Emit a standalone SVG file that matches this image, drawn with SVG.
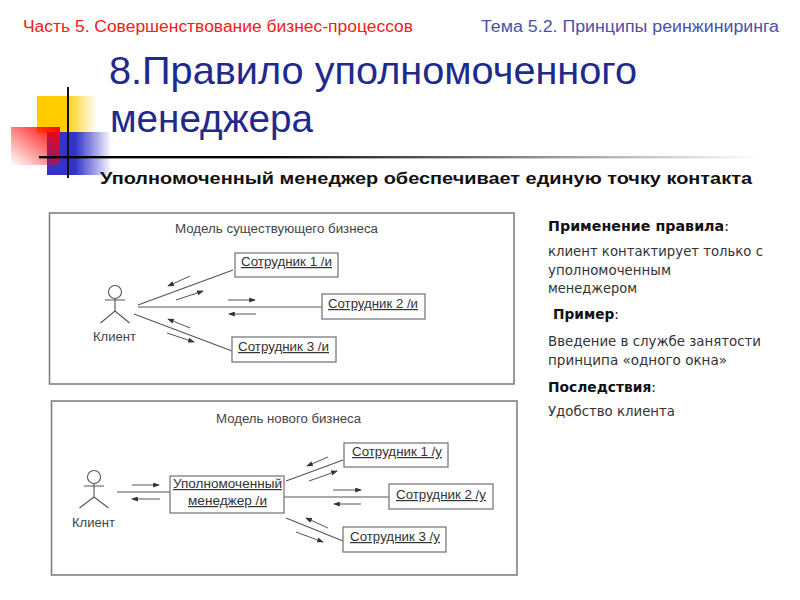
<svg xmlns="http://www.w3.org/2000/svg" width="800" height="600" viewBox="0 0 800 600">
<style>
text{font-family:"Liberation Sans",Arial,sans-serif}
.hd{font-size:16px}
.ti{font-size:39px;fill:#1f2a8c}
.sub{font-size:17px;font-weight:bold;fill:#111}
.rb,.rt{font-family:"DejaVu Sans","Liberation Sans",sans-serif}
.rb{font-size:14px;font-weight:bold;fill:#111}
.rb tspan{font-weight:normal}
.rt{font-size:14px;fill:#333}
.pt{font-size:12px;fill:#444}
.nl{font-size:12px;fill:#333;text-decoration:underline}
.panel{fill:#fff;stroke:#808080;stroke-width:1.6}
.box{fill:#fff;stroke:#7a7a7a;stroke-width:1.3}
.conn{stroke:#555;stroke-width:1.2;fill:none}
.msg{stroke:#555;stroke-width:1;fill:none;marker-end:url(#ah)}
.act{stroke:#555;stroke-width:1.1;fill:#fff}
</style>
<defs>
<marker id="ah" viewBox="0 0 8 6" refX="7" refY="3" markerWidth="7" markerHeight="5" markerUnits="userSpaceOnUse" orient="auto"><path d="M0 0L8 3L0 6Z" fill="#333"/></marker>
<linearGradient id="gy" x1="0" x2="1" y1="0" y2="0"><stop offset="0.47" stop-color="#ffcc00"/><stop offset="1" stop-color="#ffcc00" stop-opacity="0"/></linearGradient>
<linearGradient id="gb" x1="0" x2="1" y1="0" y2="0"><stop offset="0.45" stop-color="#3333cc"/><stop offset="1" stop-color="#3333cc" stop-opacity="0.05"/></linearGradient>
<linearGradient id="gr" x1="1" x2="0" y1="0" y2="1"><stop offset="0" stop-color="#ff0000"/><stop offset="1" stop-color="#ff0000" stop-opacity="0"/></linearGradient>
<linearGradient id="gl" x1="0" x2="1" y1="0" y2="0"><stop offset="0.3" stop-color="#000"/><stop offset="1" stop-color="#000" stop-opacity="0"/></linearGradient>
</defs>
<rect width="800" height="600" fill="#fff"/>
<g id="decor">
<rect x="37" y="96" width="60" height="37" fill="url(#gy)"/>
<rect x="47" y="132" width="63" height="43" fill="url(#gb)"/>
<rect x="11" y="127" width="49" height="38" fill="url(#gr)"/>
<rect x="67" y="87" width="2" height="91" fill="#111"/>
<rect x="39" y="156" width="721" height="2.400" fill="url(#gl)"/>
</g>
<g id="header">
<text class="hd" x="23" y="32" fill="#f02020" textLength="390" lengthAdjust="spacingAndGlyphs">Часть 5. Совершенствование бизнес-процессов</text>
<text class="hd" x="481" y="32" fill="#4a50a8" textLength="298" lengthAdjust="spacingAndGlyphs">Тема 5.2. Принципы реинжиниринга</text>
<text class="ti" x="109" y="84" textLength="528" lengthAdjust="spacingAndGlyphs">8.Правило уполномоченного</text>
<text class="ti" x="110" y="132" textLength="203" lengthAdjust="spacingAndGlyphs">менеджера</text>
<text class="sub" x="100" y="184" textLength="652" lengthAdjust="spacingAndGlyphs">Уполномоченный менеджер обеспечивает единую точку контакта</text>
</g>
<g id="notes">
<text class="rb" x="548" y="231" textLength="181" lengthAdjust="spacingAndGlyphs">Применение правила<tspan>:</tspan></text>
<text class="rt" x="548" y="256" textLength="215" lengthAdjust="spacingAndGlyphs">клиент контактирует только с</text>
<text class="rt" x="548" y="275" textLength="123" lengthAdjust="spacingAndGlyphs">уполномоченным</text>
<text class="rt" x="548" y="293" textLength="89" lengthAdjust="spacingAndGlyphs">менеджером</text>
<text class="rb" x="553" y="319" textLength="66" lengthAdjust="spacingAndGlyphs">Пример<tspan>:</tspan></text>
<text class="rt" x="548" y="346" textLength="213" lengthAdjust="spacingAndGlyphs">Введение в службе занятости</text>
<text class="rt" x="548" y="365" textLength="179" lengthAdjust="spacingAndGlyphs">принципа «одного окна»</text>
<text class="rb" x="548" y="392" textLength="108" lengthAdjust="spacingAndGlyphs">Последствия<tspan>:</tspan></text>
<text class="rt" x="548" y="416" textLength="127" lengthAdjust="spacingAndGlyphs">Удобство клиента</text>
</g>
<g id="panel-1">
<rect class="panel" x="49.500" y="213" width="464.500" height="171"/>
<text class="pt" x="175" y="233" textLength="203" lengthAdjust="spacingAndGlyphs">Модель существующего бизнеса</text>
</g>
<g id="panel-2">
<rect class="panel" x="51.500" y="401" width="465.500" height="174"/>
<text class="pt" x="216" y="423" textLength="145" lengthAdjust="spacingAndGlyphs">Модель нового бизнеса</text>
</g>
<g id="connectors">
<path class="conn" d="M138 305L233 270M138 307H322M134 314L232 351"/>
<path class="msg" d="M190 276L168 286"/>
<path class="msg" d="M176 300L203 291"/>
<path class="msg" d="M228 300H255"/>
<path class="msg" d="M256 314H229"/>
<path class="msg" d="M190 328L168 319"/>
<path class="msg" d="M167 333L194 342"/>
<path class="conn" d="M117 492H170M286 481L343 460M284 497H389M286 518L343 541"/>
<path class="msg" d="M132 485H159"/>
<path class="msg" d="M160 499H132"/>
<path class="msg" d="M328 457L307 466"/>
<path class="msg" d="M309 481L337 471"/>
<path class="msg" d="M333 490H361"/>
<path class="msg" d="M361 504H334"/>
<path class="msg" d="M328 528L306 518"/>
<path class="msg" d="M296 532L323 542"/>
</g>
<g id="actor-1">
<circle class="act" cx="115" cy="292" r="6.500"/>
<path class="act" fill="none" d="M105 300H125M115 298.500V311M100.500 323L115 311L129.500 323"/>
<text class="pt" x="93" y="341" textLength="43" lengthAdjust="spacingAndGlyphs">Клиент</text>
</g>
<g id="emp-1-1"><rect class="box" x="235" y="253" width="103" height="24"/><text class="nl" x="241" y="266" textLength="91" lengthAdjust="spacingAndGlyphs">Сотрудник 1 /и</text></g>
<g id="emp-1-2"><rect class="box" x="322" y="294" width="103" height="25"/><text class="nl" x="328" y="308" textLength="90" lengthAdjust="spacingAndGlyphs">Сотрудник 2 /и</text></g>
<g id="emp-1-3"><rect class="box" x="232" y="337" width="104" height="25"/><text class="nl" x="238" y="351" textLength="91" lengthAdjust="spacingAndGlyphs">Сотрудник 3 /и</text></g>
<g id="actor-2">
<circle class="act" cx="94" cy="477" r="6.500"/>
<path class="act" fill="none" d="M84 486H104M94 483.500V497M79.500 508L94 497L108.500 508"/>
<text class="pt" x="72" y="527" textLength="43" lengthAdjust="spacingAndGlyphs">Клиент</text>
</g>
<g id="manager"><rect class="box" x="170" y="476" width="114" height="37"/>
<text class="nl" x="173" y="488" textLength="109" lengthAdjust="spacingAndGlyphs">Уполномоченный</text>
<text class="nl" x="188" y="505" textLength="79" lengthAdjust="spacingAndGlyphs">менеджер /и</text></g>
<g id="emp-2-1"><rect class="box" x="344" y="443" width="104" height="24"/><text class="nl" x="352" y="456" textLength="90" lengthAdjust="spacingAndGlyphs">Сотрудник 1 /у</text></g>
<g id="emp-2-2"><rect class="box" x="389" y="484" width="104" height="25"/><text class="nl" x="396" y="499" textLength="90" lengthAdjust="spacingAndGlyphs">Сотрудник 2 /у</text></g>
<g id="emp-2-3"><rect class="box" x="343" y="527" width="103" height="25"/><text class="nl" x="350" y="541" textLength="90" lengthAdjust="spacingAndGlyphs">Сотрудник 3 /у</text></g>
</svg>
